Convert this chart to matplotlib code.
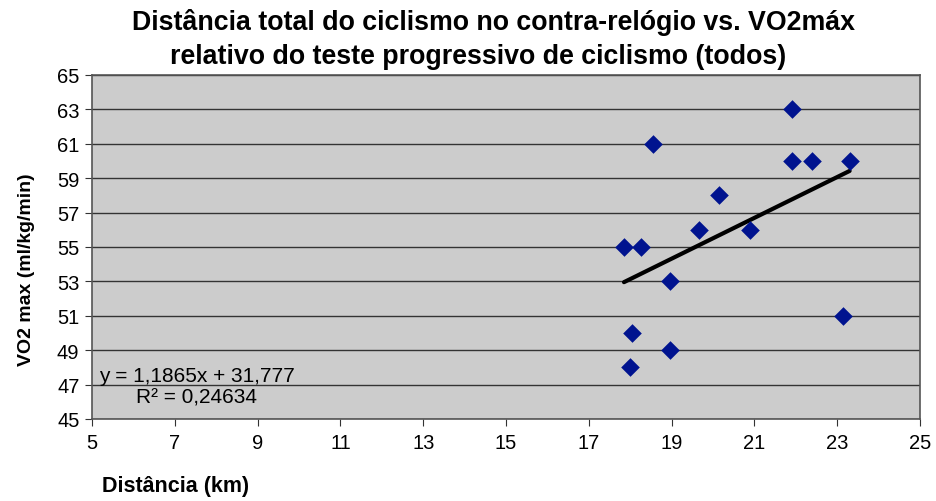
import matplotlib.pyplot as plt
import numpy as np

plt.rcParams['font.family'] = ['Liberation Sans', 'DejaVu Sans']

# Data
distancia = [17.85, 18.25, 18.55, 18.05, 18.0, 18.95, 18.95, 19.65, 20.15, 20.9, 21.9, 21.9, 22.4, 23.3, 23.15]
vo2max = [55, 55, 61, 50, 48, 53, 49, 56, 58, 56, 63, 60, 60, 60, 51]
slope = 1.1865
intercept = 31.777

fig = plt.figure(figsize=(9.37, 5.02), dpi=100)
ax = fig.add_axes([92/937, 82/502, 828/937, 344/502])
ax.set_facecolor('#cccccc')

ax.scatter(distancia, vo2max, marker='D', s=90, color='#00138f', zorder=3, linewidths=0)

xt = np.array([min(distancia), max(distancia)])
ax.plot(xt, slope * xt + intercept, color='black', linewidth=3, zorder=2, solid_capstyle='round')

ax.set_xlim(5, 25)
ax.set_ylim(45, 65)
ax.set_xticks(range(5, 26, 2))
ax.set_yticks(range(45, 66, 2))
ax.grid(axis='y', color='#333333', linewidth=1)
ax.set_axisbelow(True)
for s in ax.spines.values():
    s.set_color('#555555')
    s.set_linewidth(1.2)
ax.tick_params(axis='both', labelsize=14.5, direction='out', length=5, color='#333333')
ax.tick_params(axis='x', pad=5)
ax.tick_params(axis='y', pad=4)

ax.set_xlabel('Distância (km)', fontsize=15.5, fontweight='bold')
ax.xaxis.set_label_coords(10/828, -67/344)
ax.xaxis.label.set_ha('left')
ax.xaxis.label.set_va('center')
ax.set_ylabel('VO2 max (ml/kg/min)', fontsize=14, fontweight='bold')
ax.yaxis.set_label_coords(-65/828, 150/344)
ax.yaxis.label.set_va('center')

ax.text(105/828, 33/344, "y = 1,1865x + 31,777\nR² = 0,24634", transform=ax.transAxes,
        ha='center', va='center', fontsize=15, linespacing=1.2)

fig.text(494/937, 1 - 22/502, 'Distância total do ciclismo no contra-relógio vs. VO2máx',
         fontsize=19.3, fontweight='bold', ha='center', va='center')
fig.text(478/937, 1 - 57/502, 'relativo do teste progressivo de ciclismo (todos)',
         fontsize=19.3, fontweight='bold', ha='center', va='center')

fig.savefig('out.png', dpi=100)
